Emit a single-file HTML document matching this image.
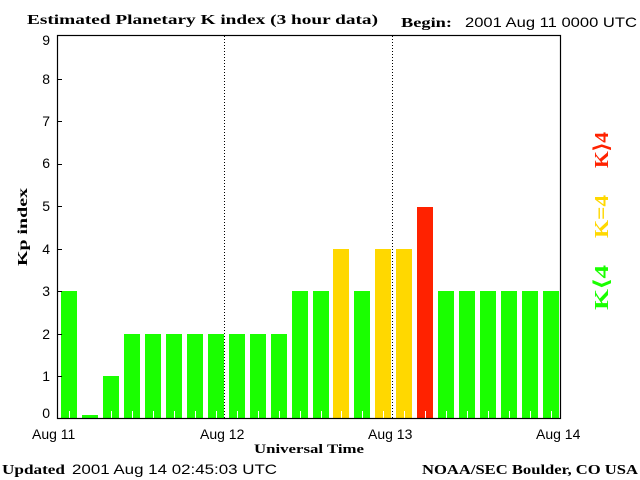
<!DOCTYPE html>
<html><head><style>html,body{margin:0;padding:0;background:#fff}svg{display:block}</style></head>
<body>
<svg width="640" height="480" xmlns="http://www.w3.org/2000/svg">
<rect width="640" height="480" fill="#fff"/>
<g font-family="Liberation Serif, serif" font-weight="bold" font-size="14" fill="#000">
<text x="27" y="24" textLength="351" lengthAdjust="spacingAndGlyphs">Estimated Planetary K index (3 hour data)</text>
<text x="401" y="27" textLength="51" lengthAdjust="spacingAndGlyphs">Begin:</text>
<text x="2" y="474" textLength="63" lengthAdjust="spacingAndGlyphs">Updated</text>
<text x="422" y="474" textLength="216" lengthAdjust="spacingAndGlyphs">NOAA/SEC Boulder, CO USA</text>
<text x="254" y="453" font-size="13" textLength="110" lengthAdjust="spacingAndGlyphs">Universal Time</text>
<text transform="translate(27,266) rotate(-90)" font-size="14" textLength="78" lengthAdjust="spacingAndGlyphs">Kp index</text>
</g>
<g font-family="Liberation Sans, sans-serif" font-size="14" fill="#000">
<text x="465" y="27" textLength="172" lengthAdjust="spacingAndGlyphs">2001 Aug 11 0000 UTC</text>
<text x="72" y="474" textLength="205" lengthAdjust="spacingAndGlyphs">2001 Aug 14 02:45:03 UTC</text>
<text x="32" y="439">Aug 11</text>
<text x="200" y="439">Aug 12</text>
<text x="368" y="439">Aug 13</text>
<text x="536" y="439">Aug 14</text>
<g text-anchor="end">
<text x="50" y="45">9</text><text x="50" y="84">8</text><text x="50" y="126">7</text><text x="50" y="168">6</text><text x="50" y="211">5</text><text x="50" y="254">4</text><text x="50" y="296">3</text><text x="50" y="339">2</text><text x="50" y="381">1</text><text x="50" y="418">0</text>
</g>
</g>
<g stroke="#000" stroke-width="1">
<line x1="224.5" y1="36" x2="224.5" y2="418" stroke-dasharray="1,2"/>
<line x1="392.5" y1="36" x2="392.5" y2="418" stroke-dasharray="1,2"/>
</g>
<g fill="#1aff00">
<rect x="61" y="291" width="16" height="127"/>
<rect x="82" y="415" width="16" height="3"/>
<rect x="103" y="376" width="16" height="42"/>
<rect x="124" y="334" width="16" height="84"/>
<rect x="145" y="334" width="16" height="84"/>
<rect x="166" y="334" width="16" height="84"/>
<rect x="187" y="334" width="16" height="84"/>
<rect x="208" y="334" width="16" height="84"/>
<rect x="229" y="334" width="16" height="84"/>
<rect x="250" y="334" width="16" height="84"/>
<rect x="271" y="334" width="16" height="84"/>
<rect x="292" y="291" width="16" height="127"/>
<rect x="313" y="291" width="16" height="127"/>
<rect x="354" y="291" width="16" height="127"/>
<rect x="438" y="291" width="16" height="127"/>
<rect x="459" y="291" width="16" height="127"/>
<rect x="480" y="291" width="16" height="127"/>
<rect x="501" y="291" width="16" height="127"/>
<rect x="522" y="291" width="16" height="127"/>
<rect x="543" y="291" width="16" height="127"/>
</g>
<g fill="#ffd800">
<rect x="333" y="249" width="16" height="169"/>
<rect x="375" y="249" width="16" height="169"/>
<rect x="396" y="249" width="16" height="169"/>
</g>
<rect x="417" y="207" width="16" height="211" fill="#ff2200"/>
<g fill="#fff">
<rect x="69" y="411" width="1" height="7"/><rect x="111" y="411" width="1" height="7"/><rect x="132" y="411" width="1" height="7"/><rect x="153" y="411" width="1" height="7"/><rect x="174" y="411" width="1" height="7"/><rect x="195" y="411" width="1" height="7"/><rect x="216" y="411" width="1" height="7"/><rect x="237" y="411" width="1" height="7"/><rect x="258" y="411" width="1" height="7"/><rect x="279" y="411" width="1" height="7"/><rect x="300" y="411" width="1" height="7"/><rect x="321" y="411" width="1" height="7"/><rect x="341" y="411" width="1" height="7"/><rect x="362" y="411" width="1" height="7"/><rect x="383" y="411" width="1" height="7"/><rect x="404" y="411" width="1" height="7"/><rect x="425" y="411" width="1" height="7"/><rect x="446" y="411" width="1" height="7"/><rect x="467" y="411" width="1" height="7"/><rect x="488" y="411" width="1" height="7"/><rect x="509" y="411" width="1" height="7"/><rect x="530" y="411" width="1" height="7"/><rect x="551" y="411" width="1" height="7"/>
</g>
<rect x="57.5" y="35.5" width="503" height="383" fill="none" stroke="#000" stroke-width="1.2"/>
<g stroke="#000">
<line x1="57" y1="79.5" x2="62" y2="79.5"/><line x1="57" y1="121.5" x2="62" y2="121.5"/><line x1="57" y1="164.5" x2="62" y2="164.5"/><line x1="57" y1="206.5" x2="62" y2="206.5"/><line x1="57" y1="249.5" x2="62" y2="249.5"/><line x1="57" y1="291.5" x2="62" y2="291.5"/><line x1="57" y1="334.5" x2="62" y2="334.5"/><line x1="57" y1="376.5" x2="62" y2="376.5"/>
</g>
<g font-family="Liberation Serif, serif" font-weight="bold" font-size="20">
<text transform="translate(608,168) rotate(-90)" fill="#ff2200" textLength="36" lengthAdjust="spacingAndGlyphs">K⟩4</text>
<text transform="translate(608,238) rotate(-90)" fill="#ffd800" textLength="43" lengthAdjust="spacingAndGlyphs">K=4</text>
<text transform="translate(608,310) rotate(-90)" fill="#1aff00" textLength="45" lengthAdjust="spacingAndGlyphs">K⟨4</text>
</g>
</svg>
</body></html>
